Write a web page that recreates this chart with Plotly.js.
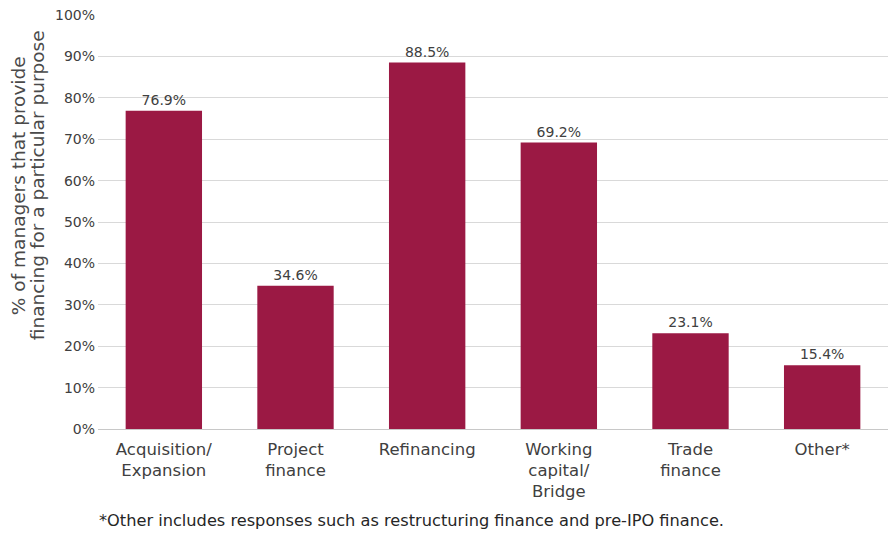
<!DOCTYPE html>
<html>
<head>
<meta charset="utf-8">
<script src="https://cdn.plot.ly/plotly-3.0.1.min.js"></script>
<style>html,body{margin:0;padding:0;background:#fff;}#chart{width:889px;height:533px;}</style>
</head>
<body>
<div id="chart"></div>
<script>
const categories = ["Acquisition/<br>Expansion", "Project<br>finance", "Refinancing", "Working<br>capital/<br>Bridge", "Trade<br>finance", "Other*"];
const values = [76.9, 34.6, 88.5, 69.2, 23.1, 15.4];
const yTitleLines = ["% of managers that provide", "financing for a particular purpose"];
const footnote = "*Other includes responses such as restructuring finance and pre-IPO finance.";

const fontFam = "DejaVu Sans, sans-serif";
const textCol = "#404040";

const trace = {
  type: "bar",
  x: categories,
  y: values,
  marker: {color: "#9b1944"},
  text: values.map(v => v.toFixed(1) + "%"),
  textposition: "outside",
  textfont: {family: fontFam, size: 14, color: textCol},
  cliponaxis: false,
  hoverinfo: "none"
};

const layout = {
  width: 889, height: 533,
  margin: {l: 98, r: 1, t: 15, b: 104},
  paper_bgcolor: "#fff", plot_bgcolor: "#fff",
  bargap: 0.42,
  showlegend: false,
  font: {family: fontFam, color: textCol, size: 14},
  xaxis: {
    tickfont: {family: fontFam, size: 16.5, color: textCol},
    showgrid: false, showline: false, ticks: "", ticklabelstandoff: 8,
    fixedrange: true
  },
  yaxis: {
    range: [0, 100], dtick: 10, ticksuffix: "%",
    tickfont: {family: fontFam, size: 14, color: textCol},
    showgrid: true, gridcolor: "#d9d9d9", gridwidth: 1,
    zeroline: true, zerolinecolor: "#c8c8c8", zerolinewidth: 1,
    showline: false, ticks: "", ticklabelstandoff: 2,
    fixedrange: true
  },
  annotations: [
    {text: yTitleLines[0], xref: "paper", yref: "paper", x: -0.1013, y: 0.589, xanchor: "center", yanchor: "middle",
     textangle: -90, showarrow: false, font: {family: fontFam, size: 18.5, color: "#4a4a4a"}},
    {text: yTitleLines[1], xref: "paper", yref: "paper", x: -0.0772, y: 0.589, xanchor: "center", yanchor: "middle",
     textangle: -90, showarrow: false, font: {family: fontFam, size: 18.5, color: "#4a4a4a"}},
    {text: footnote, xref: "paper", yref: "paper", x: -0.001, y: -0.222, xanchor: "left", yanchor: "middle",
     showarrow: false, font: {family: fontFam, size: 16.2, color: "#262626"}}
  ]
};

Plotly.newPlot("chart", [trace], layout, {displayModeBar: false, staticPlot: true});
</script>
</body>
</html>
